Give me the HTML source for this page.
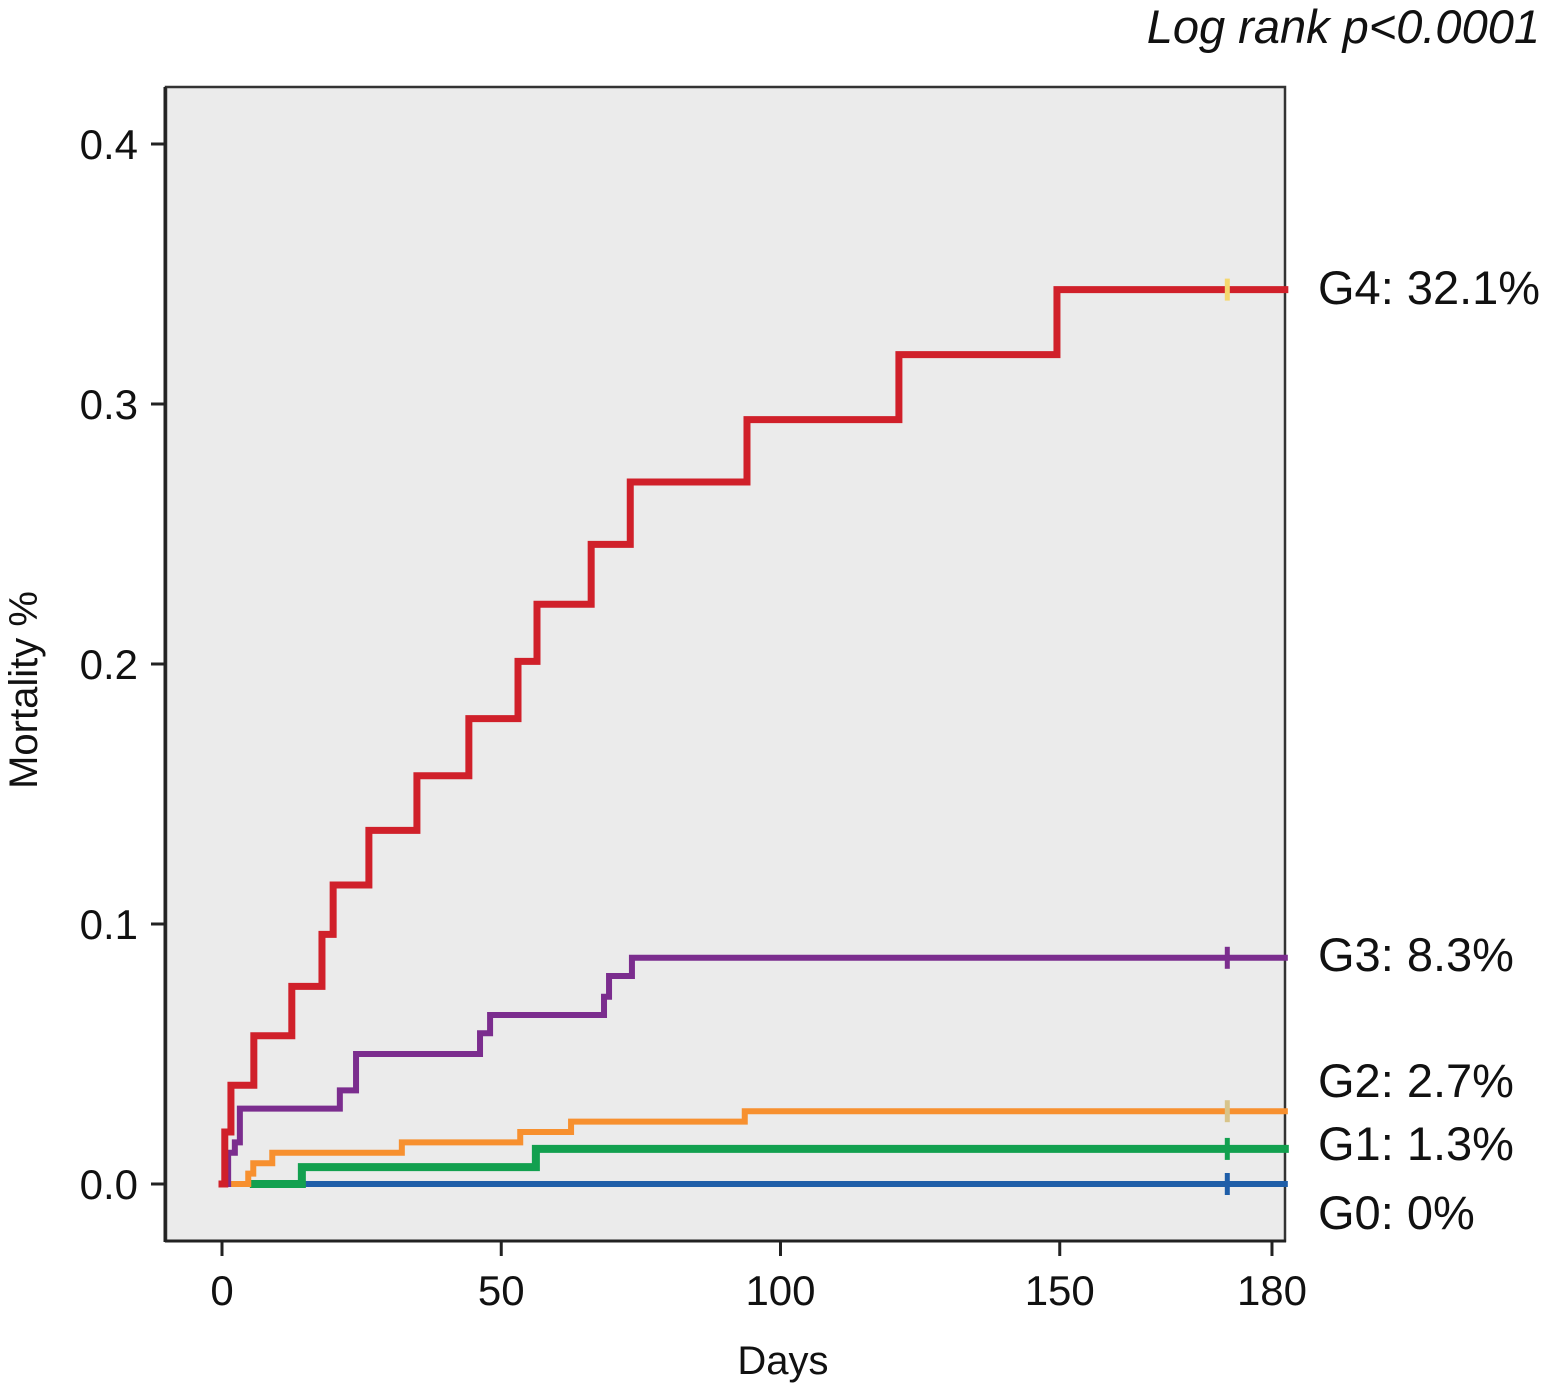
<!DOCTYPE html>
<html><head><meta charset="utf-8"><style>
html,body{margin:0;padding:0;background:#fff;}
svg{display:block;font-family:"Liberation Sans",Arial,sans-serif;}
</style></head><body>
<svg id="chart" width="1547" height="1383" viewBox="0 0 1547 1383" xmlns="http://www.w3.org/2000/svg">
<rect x="166" y="87" width="1119" height="1154" fill="#ebebeb" stroke="#333" stroke-width="2.5"/>
<line x1="165" y1="87" x2="165" y2="1242" stroke="#222" stroke-width="3"/>
<line x1="165" y1="1241" x2="1286" y2="1241" stroke="#222" stroke-width="3"/>
<g id="axes"></g>
<g id="series"></g>
<text x="1540" y="43" text-anchor="end" font-size="47" font-style="italic" fill="#111">Log rank p&lt;0.0001</text>
<text x="783" y="1374" text-anchor="middle" font-size="40" fill="#111">Days</text>
<text transform="translate(37,690) rotate(-90)" text-anchor="middle" font-size="40" fill="#111">Mortality %</text>
<text x="1318" y="304" font-size="47" fill="#111">G4: 32.1%</text>
<text x="1318" y="971" font-size="47" fill="#111">G3: 8.3%</text>
<text x="1318" y="1097" font-size="47" fill="#111">G2: 2.7%</text>
<text x="1318" y="1160" font-size="47" fill="#111">G1: 1.3%</text>
<text x="1318" y="1229" font-size="47" fill="#111">G0: 0%</text>
</svg>
<script>
const yTicks = [0, 0.1, 0.2, 0.3, 0.4];
const yTickLabels = ["0.0", "0.1", "0.2", "0.3", "0.4"];
const xTicks = [0, 50, 100, 150, 188];
const xTickLabels = ["0", "50", "100", "150", "180"];
const g4Days = [0, 0.5, 1.6, 5.7, 12.5, 17.9, 19.9, 26.3, 34.9, 44.2, 53, 56.4, 66.1, 73.1, 94, 121.2, 149.5];
const g4Vals = [0, 0.02, 0.038, 0.057, 0.076, 0.096, 0.115, 0.136, 0.157, 0.179, 0.201, 0.223, 0.246, 0.27, 0.294, 0.319, 0.344];
const g3Days = [0.5, 1.1, 2.3, 3.2, 21.1, 24, 46.2, 48, 68.4, 69.3, 73.4];
const g3Vals = [0, 0.012, 0.016, 0.029, 0.036, 0.05, 0.058, 0.065, 0.072, 0.08, 0.087];
const g2Days = [0.5, 4.7, 5.6, 9, 32.2, 53.4, 62.5, 93.6];
const g2Vals = [0, 0.004, 0.008, 0.012, 0.016, 0.02, 0.024, 0.028];
const g1Days = [5.7, 14.3, 56.2];
const g1Vals = [0, 0.0065, 0.0135];
const g0Days = [14.3];
const g0Vals = [0];
const endDay = 190.3;
const censorDay = 180;

const NS = "http://www.w3.org/2000/svg";
const xs = d => 222 + d * 5.585;
const ys = v => 1184 - v * 2600;
const axes = document.getElementById('axes');
const series = document.getElementById('series');
function mk(tag, attrs, parent) {
  const e = document.createElementNS(NS, tag);
  for (const k in attrs) e.setAttribute(k, attrs[k]);
  parent.appendChild(e);
  return e;
}
yTicks.forEach((v, i) => {
  const t = mk('line', {x1: 151, x2: 165, y1: ys(v), y2: ys(v), stroke: '#222', 'stroke-width': 3}, axes);
  
  
  const l = mk('text', {x: 138, y: ys(v) + 15, 'text-anchor': 'end', 'font-size': 42, fill: '#111'}, axes);
  l.textContent = yTickLabels[i];
  
  
});
xTicks.forEach((v, i) => {
  const t = mk('line', {x1: xs(v), x2: xs(v), y1: 1242, y2: 1256, stroke: '#222', 'stroke-width': 3}, axes);
  
  
  const l = mk('text', {x: xs(v), y: 1305, 'text-anchor': 'middle', 'font-size': 42, fill: '#111'}, axes);
  l.textContent = xTickLabels[i];
  
  
});
function stepPath(days, vals) {
  let d = 'M' + xs(days[0]) + ' ' + ys(vals[0]);
  for (let i = 1; i < days.length; i++) {
    d += ' H' + xs(days[i]) + ' V' + ys(vals[i]);
  }
  d += ' H' + xs(endDay);
  return d;
}
const groups = [
  ['g0', g0Days, g0Vals, '#1f5ea8', 6, '#1f5ea8'],
  ['g1', g1Days, g1Vals, '#12a04f', 8, '#12a04f'],
  ['g2', g2Days, g2Vals, '#f7902f', 6, '#d8c48a'],
  ['g3', g3Days, g3Vals, '#7b2d8e', 6, '#7b2d8e'],
  ['g4', g4Days, g4Vals, '#d0202a', 7, '#f5d76e']
];
groups.forEach(g => {
  const p = mk('path', {d: stepPath(g[1], g[2]), fill: 'none', stroke: g[3], 'stroke-width': g[4], 'stroke-linejoin': 'miter', 'stroke-linecap': 'square'}, series);
  
  
  const last = g[2][g[2].length - 1];
  const c = mk('line', {x1: xs(censorDay), x2: xs(censorDay), y1: ys(last) - 11, y2: ys(last) + 11, stroke: g[5], 'stroke-width': 5}, series);
  
  
});
</script>
</body></html>
